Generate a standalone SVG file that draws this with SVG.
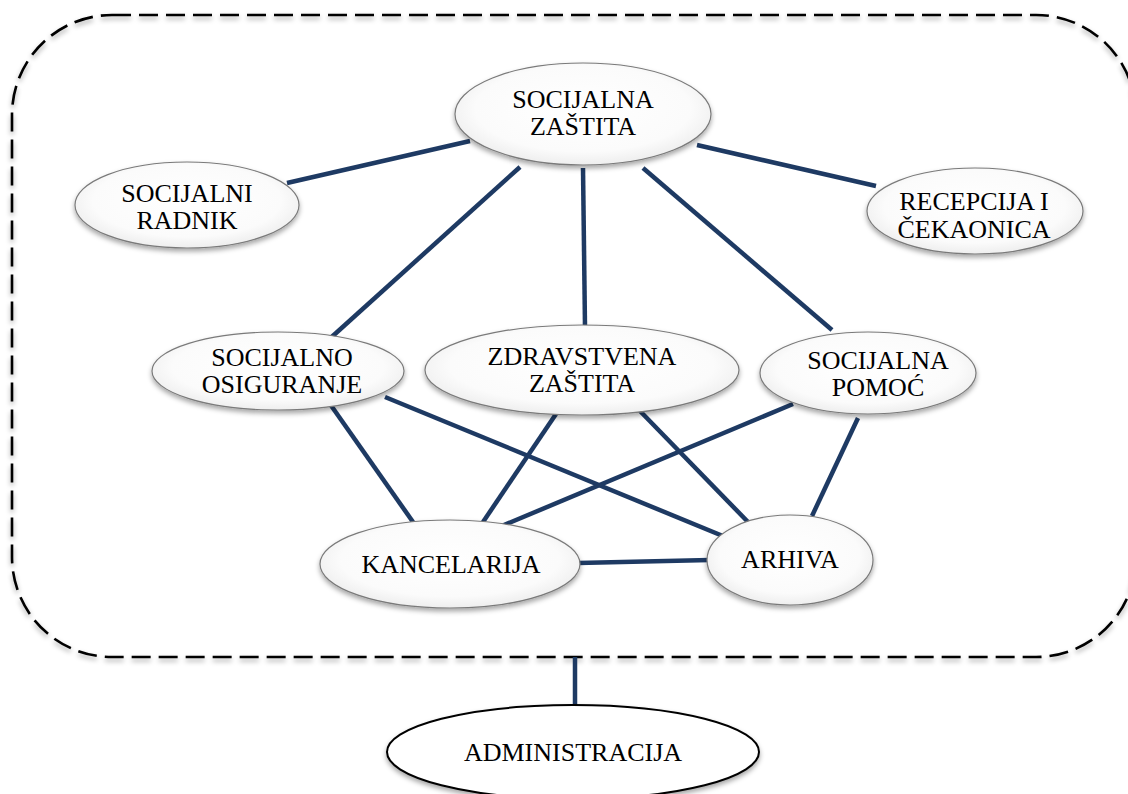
<svg xmlns="http://www.w3.org/2000/svg" width="1128" height="794" viewBox="0 0 1128 794">
  <defs>
    <radialGradient id="bubble" cx="0.5" cy="0.45" r="0.6">
      <stop offset="0" stop-color="#ffffff"/>
      <stop offset="0.7" stop-color="#fbfbfb"/>
      <stop offset="1" stop-color="#e9e9e9"/>
    </radialGradient>
    <filter id="shadow" x="-20%" y="-20%" width="140%" height="150%">
      <feDropShadow dx="0" dy="3" stdDeviation="2.5" flood-color="#000" flood-opacity="0.35"/>
    </filter>
  </defs>
  <style>
    .frame { fill: none; stroke: #000; stroke-width: 2.6; stroke-dasharray: 19 8; }
    .edge { stroke: #1e3a63; stroke-width: 4.5; stroke-linecap: butt; fill: none; }
    .node ellipse { fill: url(#bubble); stroke: #7a7a7a; stroke-width: 1.2; filter: url(#shadow); }
    .node.admin ellipse { fill: #fff; stroke: #000; stroke-width: 2; }
    text { font-family: "Liberation Serif", "Times New Roman", serif; font-size: 26px; fill: #000; text-anchor: middle; }
  </style>

  <rect width="1128" height="794" fill="#fff"/>

  <!-- dashed boundary of the centre -->
  <rect class="frame" x="12" y="15" width="1124" height="642" rx="100" ry="100" filter="url(#shadow)"/>

  <g id="connectors">
    <line class="edge" x1="470" y1="141" x2="287" y2="183"/>
    <line class="edge" x1="697" y1="145" x2="876" y2="186"/>
    <line class="edge" x1="520" y1="167" x2="325" y2="343"/>
    <line class="edge" x1="583" y1="168" x2="585" y2="327"/>
    <line class="edge" x1="643" y1="168" x2="832" y2="330"/>
    <line class="edge" x1="330" y1="404" x2="413" y2="522"/>
    <line class="edge" x1="385" y1="397" x2="752" y2="548"/>
    <line class="edge" x1="556" y1="414" x2="483" y2="522"/>
    <line class="edge" x1="640" y1="411" x2="748" y2="522"/>
    <line class="edge" x1="793" y1="404" x2="497" y2="528"/>
    <line class="edge" x1="858" y1="418" x2="812" y2="516"/>
    <line class="edge" x1="578" y1="563" x2="710" y2="560"/>
    <line class="edge" x1="575" y1="657" x2="575" y2="706"/>
  </g>

  <g id="socijalna-zastita" class="node">
    <ellipse cx="583" cy="114" rx="128" ry="51"/>
    <text x="583" y="108">SOCIJALNA</text>
    <text x="583" y="135">ZAŠTITA</text>
  </g>

  <g id="socijalni-radnik" class="node">
    <ellipse cx="187" cy="205" rx="112" ry="43"/>
    <text x="187" y="202">SOCIJALNI</text>
    <text x="187" y="229">RADNIK</text>
  </g>

  <g id="recepcija" class="node">
    <ellipse cx="975" cy="211" rx="108" ry="43"/>
    <text x="974" y="210">RECEPCIJA I</text>
    <text x="974" y="238">ČEKAONICA</text>
  </g>

  <g id="socijalno-osiguranje" class="node">
    <ellipse cx="278" cy="371" rx="126" ry="39"/>
    <text x="282" y="366">SOCIJALNO</text>
    <text x="282" y="393">OSIGURANJE</text>
  </g>

  <g id="zdravstvena-zastita" class="node">
    <ellipse cx="582" cy="370" rx="157" ry="45"/>
    <text x="582" y="365">ZDRAVSTVENA</text>
    <text x="582" y="392">ZAŠTITA</text>
  </g>

  <g id="socijalna-pomoc" class="node">
    <ellipse cx="868" cy="373" rx="108" ry="41"/>
    <text x="878" y="369">SOCIJALNA</text>
    <text x="878" y="396">POMOĆ</text>
  </g>

  <g id="kancelarija" class="node">
    <ellipse cx="450" cy="564" rx="130" ry="44"/>
    <text x="451" y="573">KANCELARIJA</text>
  </g>

  <g id="arhiva" class="node">
    <ellipse cx="790" cy="560" rx="83" ry="45"/>
    <text x="790" y="568">ARHIVA</text>
  </g>

  <g id="administracija" class="node admin">
    <ellipse cx="573" cy="752" rx="186" ry="47"/>
    <text x="573" y="761">ADMINISTRACIJA</text>
  </g>
</svg>
